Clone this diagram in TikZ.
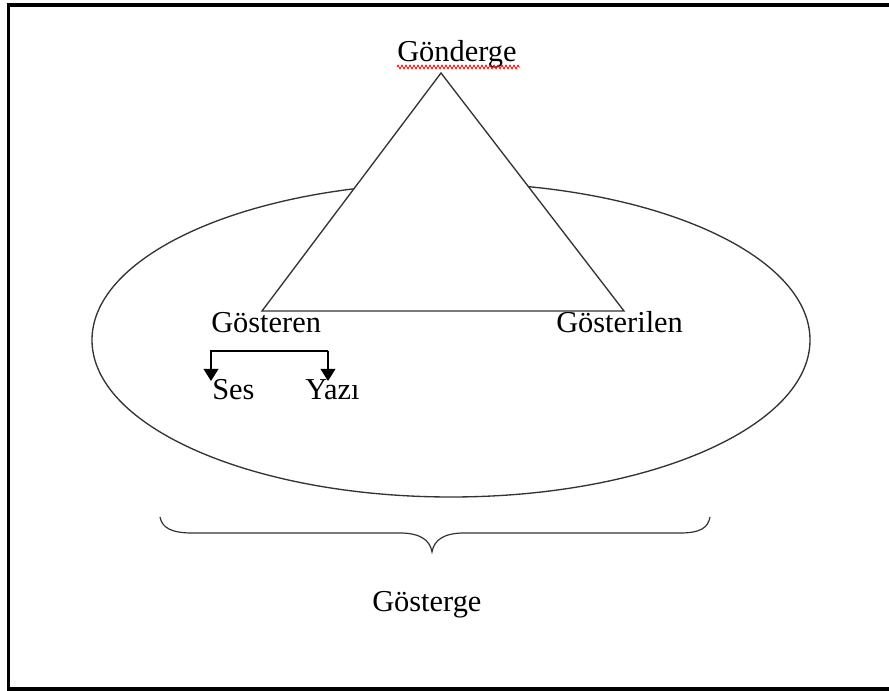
\documentclass[tikz,border=0pt]{standalone}
\usepackage{fontspec}
\setmainfont{Liberation Serif}
\usetikzlibrary{arrows.meta,decorations.pathmorphing}
\begin{document}
\begin{tikzpicture}[x=0.75pt,y=-0.75pt,
  lbl/.style={inner sep=0pt,anchor=base west,font=\fontsize{22.8}{27}\selectfont},
  shapeline/.style={line width=1pt,draw=black!80},
  arr/.style={line width=1.1pt,-{Triangle[width=11pt,length=9pt]}},
  squiggle/.style={red,line width=0.6pt,decorate,decoration={zigzag,amplitude=1.4pt,segment length=3pt}}]
\useasboundingbox (0,0) rectangle (889,691);
\begin{scope}
\clip (0,0) rectangle (889,691);
\draw[line width=2.7pt] (8.5,5) rectangle (895,689);
\end{scope}
% ellipse
\draw[shapeline] (451,340) ellipse [x radius=359, y radius=157];
% triangle
\coordinate (apex) at (441,73);
\coordinate (bl) at (262,311);
\coordinate (br) at (624,311);
\draw[shapeline,fill=white,line join=miter] (apex) -- (bl) -- (br) -- cycle;
% labels
\node[lbl] (gonderge) at (397,62) {Gönderge};
\draw[squiggle] (397,67) -- (520,67);
\node[lbl] (gosteren) at (211,333) {Gösteren};
\node[lbl] (gosterilen) at (556,333) {Gösterilen};
\node[lbl] (ses) at (212,400) {Ses};
\node[lbl] (yazi) at (305,400) {Yazı};
\node[lbl] (gosterge) at (372,611) {Gösterge};
% fork arrows
\coordinate (fL) at (211,351);
\coordinate (fR) at (328,351);
\coordinate (sesTip) at (211,381);
\coordinate (yaziTip) at (328,381);
\draw[arr] (fR) -- (fL) -- (sesTip);
\draw[arr] (fR) -- (yaziTip);
% brace
\draw[line width=0.9pt,black!80] (160,517) .. controls (162,528) and (172,533) .. (192,533)
  -- (400,533) .. controls (420,533) and (430,540) .. (432,552)
  .. controls (434,540) and (444,533) .. (464,533)
  -- (680,533) .. controls (700,533) and (708,528) .. (710,517);
\end{tikzpicture}
\end{document}
